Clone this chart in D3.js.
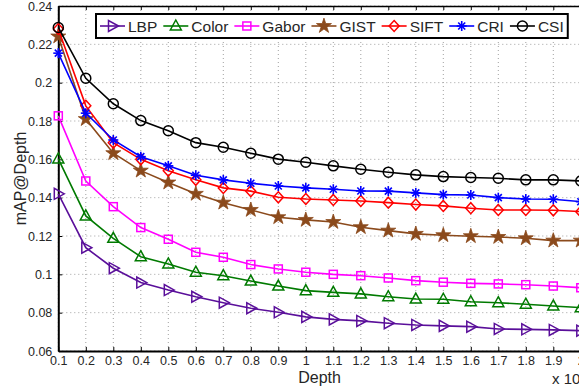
<!DOCTYPE html>
<html><head><meta charset="utf-8">
<script src="https://cdn.jsdelivr.net/npm/d3@7"></script>
<style>body{margin:0;background:#fff;}svg{display:block;font-family:"Liberation Sans",Arial,sans-serif;}</style>
</head><body>
<svg id="c" width="579" height="389"></svg>
<script>
const depth = [0.1,0.2,0.3,0.4,0.5,0.6,0.7,0.8,0.9,1.0,1.1,1.2,1.3,1.4,1.5,1.6,1.7,1.8,1.9,2.0];
const seriesNames = ["LBP","Color","Gabor","GIST","SIFT","CRI","CSI"];
const LBP   = [0.142,0.1139,0.1032,0.0957,0.0918,0.0883,0.0852,0.0823,0.0802,0.0778,0.0765,0.0757,0.0745,0.0736,0.0731,0.0727,0.0715,0.0713,0.0710,0.0706];
const Color = [0.1602,0.1305,0.1188,0.1092,0.1054,0.1011,0.0993,0.0965,0.0939,0.0915,0.0906,0.0898,0.0883,0.0871,0.0870,0.0857,0.0852,0.0844,0.0835,0.0826];
const Gabor = [0.1827,0.1487,0.1353,0.1244,0.1183,0.1115,0.1089,0.1051,0.1028,0.1011,0.1000,0.0993,0.0981,0.0967,0.0959,0.0953,0.0950,0.0946,0.0939,0.0930];
const GIST  = [0.2241,0.1810,0.1632,0.1541,0.1479,0.1420,0.1374,0.1336,0.1298,0.1284,0.1273,0.1246,0.1228,0.1211,0.1204,0.1199,0.1195,0.1188,0.1176,0.1176];
const SIFT  = [0.2280,0.1879,0.1687,0.1600,0.1541,0.1493,0.1451,0.1434,0.1402,0.1393,0.1388,0.1383,0.1374,0.1364,0.1357,0.1345,0.1336,0.1336,0.1334,0.1327];
const CRI   = [0.2154,0.1841,0.1701,0.1614,0.1566,0.1517,0.1493,0.1475,0.1461,0.1451,0.1444,0.1435,0.1434,0.1425,0.1416,0.1414,0.1400,0.1393,0.1392,0.1379];
const CSI   = [0.2288,0.2023,0.1890,0.1802,0.1749,0.1687,0.1663,0.1632,0.1601,0.1585,0.1566,0.1548,0.1533,0.1519,0.1510,0.1505,0.1501,0.1493,0.1493,0.1487];
const xTicks = [0.1,0.2,0.3,0.4,0.5,0.6,0.7,0.8,0.9,1,1.1,1.2,1.3,1.4,1.5,1.6,1.7,1.8,1.9,2];
const yTicks = [0.06,0.08,0.1,0.12,0.14,0.16,0.18,0.2,0.22,0.24];

const seriesData = [LBP,Color,Gabor,GIST,SIFT,CRI,CSI];
const colors = ["#5a0f9a","#007a00","#ff00ff","#8b4a1c","#ff0000","#0000ff","#000000"];
const markers = ["triRight","triUp","square","star","diamond","asterisk","circle"];

const svg = d3.select("#c");
const L = 58.3, R = 580.8, T = 6, B = 351;
const x = d3.scaleLinear().domain([0.1,2.0]).range([L,R]);
const y = d3.scaleLinear().domain([0.06,0.24]).range([B,T]);

// grid
const g = svg.append("g");
xTicks.forEach(t=>{ g.append("line").attr("x1",x(t)).attr("x2",x(t)).attr("y1",T).attr("y2",B)
  .attr("stroke","#a0a0a0").attr("stroke-width",1).attr("stroke-dasharray","1,3"); });
yTicks.forEach(t=>{ g.append("line").attr("x1",L).attr("x2",R).attr("y1",y(t)).attr("y2",y(t))
  .attr("stroke","#a0a0a0").attr("stroke-width",1).attr("stroke-dasharray","1,3"); });

// axes
const xAxisB = d3.axisBottom(x).tickValues(xTicks).tickSizeInner(-4).tickSizeOuter(0).tickPadding(5).tickFormat(d3.format("~g"));
const xAxisT = d3.axisTop(x).tickValues(xTicks).tickSizeInner(-4).tickSizeOuter(0).tickFormat("");
const yAxisL = d3.axisLeft(y).tickValues(yTicks).tickSizeInner(-4).tickSizeOuter(0).tickPadding(6).tickFormat(d3.format("~g"));
const ax = svg.append("g").attr("transform",`translate(0,${B})`).call(xAxisB);
const at = svg.append("g").attr("transform",`translate(0,${T})`).call(xAxisT);
const ay = svg.append("g").attr("transform",`translate(${L},0)`).call(yAxisL);
[ax,at,ay].forEach(a=>{
  a.select(".domain").attr("stroke","#000").attr("stroke-width",2);
  a.selectAll(".tick line").attr("stroke","#000").attr("stroke-width",1);
  a.selectAll(".tick text").attr("font-size",12.5).attr("fill","#262626").attr("font-family","Liberation Sans, Arial, sans-serif");
});
at.select(".domain").attr("stroke-width",1.5);
svg.append("line").attr("x1",R).attr("x2",R).attr("y1",T).attr("y2",B).attr("stroke","#000").attr("stroke-width",1.5);

// marker drawing
function drawMarker(sel, type, color, cx, cy){
  const gg = sel.append("g").attr("transform",`translate(${cx},${cy})`);
  const sw = 1.5;
  if(type==="circle") gg.append("circle").attr("r",5).attr("fill","none").attr("stroke",color).attr("stroke-width",sw);
  else if(type==="square") gg.append("rect").attr("x",-4).attr("y",-4).attr("width",8).attr("height",8).attr("fill","none").attr("stroke",color).attr("stroke-width",sw);
  else if(type==="diamond") gg.append("path").attr("d","M0,-5.5L5,0L0,5.5L-5,0Z").attr("fill","none").attr("stroke",color).attr("stroke-width",sw);
  else if(type==="triUp") gg.append("path").attr("d","M0,-6L5.5,4L-5.5,4Z").attr("fill","none").attr("stroke",color).attr("stroke-width",sw);
  else if(type==="triRight") gg.append("path").attr("d","M6,0L-4,-5.5L-4,5.5Z").attr("fill","none").attr("stroke",color).attr("stroke-width",sw);
  else if(type==="star") gg.append("path").attr("d",d3.symbol(d3.symbolStar,70)()).attr("fill",color).attr("stroke",color).attr("stroke-width",0.8);
  else if(type==="asterisk"){
    const r=5;
    [[0,-r,0,r],[-r,0,r,0],[-r*0.7,-r*0.7,r*0.7,r*0.7],[-r*0.7,r*0.7,r*0.7,-r*0.7]].forEach(l=>
      gg.append("line").attr("x1",l[0]).attr("y1",l[1]).attr("x2",l[2]).attr("y2",l[3]).attr("stroke",color).attr("stroke-width",1.6));
  }
}

// series
const line = d3.line().x((d,i)=>x(depth[i])).y(d=>y(d));
seriesData.forEach((vals,si)=>{
  const sg = svg.append("g");
  sg.append("path").datum(vals).attr("d",line).attr("fill","none").attr("stroke",colors[si]).attr("stroke-width",1.6);
  vals.forEach((v,i)=>drawMarker(sg,markers[si],colors[si],x(depth[i]),y(v)));
});

// labels
svg.append("text").attr("x",(L+R)/2).attr("y",383).attr("text-anchor","middle").attr("font-size",16).attr("fill","#262626").text("Depth");
svg.append("text").attr("transform",`translate(26,${(T+B)/2}) rotate(-90)`).attr("text-anchor","middle").attr("font-size",16).attr("fill","#262626").text("mAP@Depth");
svg.append("text").attr("x",552).attr("y",384).attr("font-size",15).attr("fill","#262626").text("x 10");

// legend
const lg = svg.append("g");
const box = lg.append("rect").attr("x",96).attr("y",14).attr("height",24).attr("fill","#fff").attr("stroke","#000").attr("stroke-width",2);
let lx = 100;
seriesNames.forEach((n,i)=>{
  const ly = 26;
  lg.append("line").attr("x1",lx).attr("x2",lx+25).attr("y1",ly).attr("y2",ly).attr("stroke",colors[i]).attr("stroke-width",1.6);
  drawMarker(lg,markers[i],colors[i],lx+12.5,ly);
  const t = lg.append("text").attr("x",lx+28).attr("y",ly+5.5).attr("font-size",15.5).attr("fill","#262626").text(n);
  lx = lx + 28 + t.node().getComputedTextLength() + 6;
});
box.attr("width",lx - 96 - 2);
</script>
</body></html>
